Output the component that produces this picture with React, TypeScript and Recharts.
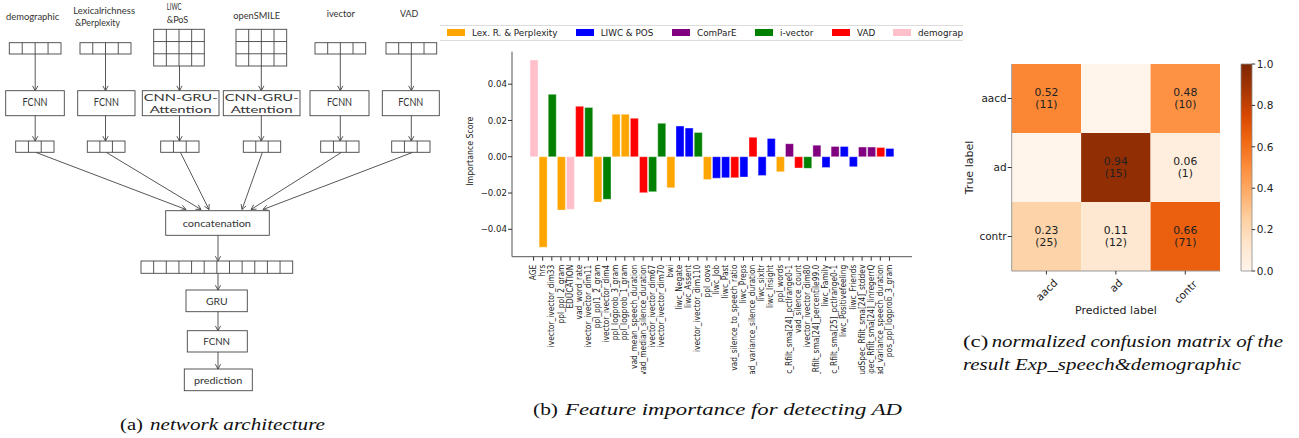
import React from 'react';
import { BarChart, Bar, XAxis, YAxis, Cell, LabelList, Label } from 'recharts';

// ---------- Panel (b) data ----------
const featureNames = [
  'AGE', 'hrs', 'ivector_ivector_dim33', 'ppl_ppl_2_gram', 'EDUCATION', 'vad_word_rate',
  'ivector_ivector_dim11', 'ppl_ppl1_2_gram', 'ivector_ivector_dim4', 'ppl_logprob_3_gram',
  'ppl_logprob_1_gram', 'vad_mean_speech_duration', 'vad_median_silence_duration',
  'ivector_ivector_dim67', 'ivector_ivector_dim70', 'bwi', 'liwc_Negate', 'liwc_Assent',
  'ivector_ivector_dim110', 'ppl_oovs', 'liwc_Job', 'liwc_Past', 'vad_silence_to_speech_ratio',
  'liwc_Preps', 'vad_variance_silence_duration', 'liwc_sixltr', 'liwc_Insight', 'ppl_words',
  'compare_audSpec_Rfilt_sma[24]_pctlrange0-1', 'vad_silence_count', 'ivector_ivector_dim80',
  'compare_audSpec_Rfilt_sma[24]_percentile99.0', 'liwc_Family',
  'compare_audSpec_Rfilt_sma[25]_pctlrange0-1', 'liwc_Positivefeeling', 'liwc_Friends',
  'compare_audSpec_Rfilt_sma[24]_stddev', 'compare_audSpec_Rfilt_sma[24]_linregerrQ',
  'vad_variance_speech_duration', 'pos_ppl_logprob_3_gram',
];
const featureGroups = [
  'demo', 'lex', 'ivector', 'lex', 'demo', 'vad',
  'ivector', 'lex', 'ivector', 'lex',
  'lex', 'vad', 'vad',
  'ivector', 'ivector', 'lex', 'liwc', 'liwc',
  'ivector', 'lex', 'liwc', 'liwc', 'vad',
  'liwc', 'vad', 'liwc', 'liwc', 'lex',
  'compare', 'vad', 'ivector',
  'compare', 'liwc',
  'compare', 'liwc', 'liwc',
  'compare', 'compare',
  'vad', 'liwc',
];
const importanceScores = [
  0.0533, -0.0499, 0.0344, -0.0294, -0.0290, 0.0278,
  0.0272, -0.0250, -0.0235, 0.0234,
  0.0234, 0.0212, -0.0198,
  -0.0193, 0.0184, -0.0171, 0.0169, 0.0158,
  0.0134, -0.0125, -0.0118, -0.0116, -0.0116,
  -0.0112, 0.0107, -0.0103, 0.0101, -0.0083,
  0.0072, -0.0062, -0.0064,
  0.0064, -0.0059,
  0.0057, 0.0057, -0.0055,
  0.0053, 0.0053,
  0.0051, 0.0046,
];
const groupKeys = ['lex', 'liwc', 'compare', 'ivector', 'vad', 'demo'];
const groupLabels = ['Lex. R. & Perplexity', 'LIWC & POS', 'ComParE', 'i-vector', 'VAD', 'demographic'];
const groupColors = ['#FFA500', '#0000FF', '#800080', '#008000', '#FF0000', '#FFC0CB'];
const importanceTicks = [-0.04, -0.02, 0, 0.02, 0.04];

// ---------- Panel (c) data ----------
const trueLabels = ['aacd', 'ad', 'contr'];
const predLabels = ['aacd', 'ad', 'contr'];
const normMatrix = [
  [0.52, 0.0, 0.48],
  [0.0, 0.94, 0.06],
  [0.23, 0.11, 0.66],
];
const countMatrix = [
  [11, 0, 10],
  [0, 15, 1],
  [25, 12, 71],
];
const colorbarTicks = [0, 0.2, 0.4, 0.6, 0.8, 1.0];
const orangesStops = ['#fff5eb', '#fee6ce', '#fdd0a2', '#fdae6b', '#fd8d3c', '#f16913', '#d94801', '#a63603', '#7f2704'];

function hexToRgb(h: string) {
  return [parseInt(h.slice(1, 3), 16), parseInt(h.slice(3, 5), 16), parseInt(h.slice(5, 7), 16)];
}
function oranges(v: number) {
  const n = orangesStops.length - 1;
  const p = Math.max(0, Math.min(1, v)) * n;
  const i = Math.min(n - 1, Math.floor(p));
  const t = p - i;
  const a = hexToRgb(orangesStops[i]);
  const b = hexToRgb(orangesStops[i + 1]);
  const c = a.map((x, k) => Math.round(x + (b[k] - x) * t));
  return `rgb(${c[0]},${c[1]},${c[2]})`;
}

const barData = featureNames.map((name, i) => ({ name, value: importanceScores[i], group: featureGroups[i] }));
const colorOf = (g: string) => groupColors[groupKeys.indexOf(g)];

const fmtMinus = (v: number) => (v < 0 ? '\u2212' : '') + Math.abs(v).toFixed(2);

const FeatTick = (props: any) => {
  const { x, y, payload } = props;
  return (
    <text
      transform={`translate(${x},${y}) rotate(-90) scale(0.87,1)`}
      textAnchor="end"
      dominantBaseline="central"
      fontSize={8.6}
      fontFamily="DejaVu Sans"
      fill="#222"
    >
      {payload.value}
    </text>
  );
};

const PredTick = (props: any) => {
  const { x, payload } = props;
  const label = predLabels[Math.floor(payload.value)];
  const w = label.length * 0.58 * 10.5;
  const h = (w + 10.5) * 0.707;
  return (
    <text
      transform={`translate(${x},${277.3 + h / 2}) rotate(-45)`}
      textAnchor="middle"
      dominantBaseline="central"
      fontSize={10.5}
      fontFamily="DejaVu Sans"
      fill="#222"
    >
      {label}
    </text>
  );
};

// ---------- Panel (a) helpers ----------
const S = '#444';
function Grid({ x, y, w, h, cols, rows }: any) {
  const lines: any[] = [];
  for (let c = 1; c < cols; c++) {
    const xx = x + (w * c) / cols;
    lines.push(<line key={'c' + c} x1={xx} y1={y} x2={xx} y2={y + h} stroke={S} strokeWidth={0.9} />);
  }
  for (let r = 1; r < rows; r++) {
    const yy = y + (h * r) / rows;
    lines.push(<line key={'r' + r} x1={x} y1={yy} x2={x + w} y2={yy} stroke={S} strokeWidth={0.9} />);
  }
  return (
    <g>
      <rect x={x} y={y} width={w} height={h} fill="#fff" stroke={S} strokeWidth={0.9} />
      {lines}
    </g>
  );
}
function Arrow({ x1, y1, x2, y2 }: any) {
  const a = Math.atan2(y2 - y1, x2 - x1);
  const L = 5.5;
  const w = 0.5;
  const p1 = [x2 - L * Math.cos(a - w), y2 - L * Math.sin(a - w)];
  const p2 = [x2 - L * Math.cos(a + w), y2 - L * Math.sin(a + w)];
  return (
    <g stroke={S} strokeWidth={0.9} fill="none">
      <line x1={x1} y1={y1} x2={x2} y2={y2} />
      <polyline points={`${p1[0]},${p1[1]} ${x2},${y2} ${p2[0]},${p2[1]}`} />
    </g>
  );
}
function T({ x1, x2, cy, s, size }: any) {
  return (
    <text
      x={x1}
      y={cy}
      textLength={x2 - x1}
      lengthAdjust="spacingAndGlyphs"
      dominantBaseline="central"
      fontSize={size}
      fontFamily="Lato"
      fill="#333"
    >
      {s}
    </text>
  );
}

const inputs = [
  { x: 9.3, y: 42.7, w: 51.7, h: 11.3, cols: 4, rows: 1, cx: 35.2 },
  { x: 80, y: 42.7, w: 51, h: 11.3, cols: 4, rows: 1, cx: 105.5 },
  { x: 153.7, y: 29.3, w: 50.6, h: 36.7, cols: 4, rows: 3, cx: 179.5 },
  { x: 236, y: 29.3, w: 50.7, h: 36.7, cols: 4, rows: 3, cx: 261.3 },
  { x: 315, y: 42.7, w: 50.7, h: 11.3, cols: 4, rows: 1, cx: 340.3 },
  { x: 386, y: 42.7, w: 50.7, h: 11.3, cols: 4, rows: 1, cx: 411.3 },
];
const modules = [
  { x1: 5.7, x2: 64.3 },
  { x1: 77.7, x2: 135 },
  { x1: 142.3, x2: 219 },
  { x1: 223.3, x2: 300 },
  { x1: 310, x2: 369 },
  { x1: 382.3, x2: 439.3 },
];
const outputs = [
  { x1: 15.7, x2: 54 },
  { x1: 87.3, x2: 125 },
  { x1: 160.7, x2: 199 },
  { x1: 243.3, x2: 280.7 },
  { x1: 320.7, x2: 359 },
  { x1: 391.7, x2: 430 },
];
const convergeTips = [186, 201, 209, 242, 251, 263];

function Diagram() {
  return (
    <svg width={445} height={438} style={{ position: 'absolute', left: 0, top: 0 }}>
      <T x1={6} x2={59.3} cy={16.7} s="demographic" size={9.5} />
      <T x1={73.3} x2={135} cy={10.7} s="Lexicalrichness" size={9.5} />
      <T x1={75} x2={120} cy={22.7} s="&Perplexity" size={9.5} />
      <T x1={166.7} x2={181.5} cy={6} s="LIWC" size={9} />
      <T x1={166.7} x2={188.3} cy={19.3} s="&PoS" size={9} />
      <T x1={233.3} x2={280} cy={15} s="openSMILE" size={9.5} />
      <T x1={326.7} x2={355} cy={13.3} s="ivector" size={9.5} />
      <T x1={400} x2={418.3} cy={13.3} s="VAD" size={9.5} />
      {inputs.map((b, i) => (
        <g key={'in' + i}>
          <Grid {...b} />
          <Arrow x1={b.cx} y1={b.y + b.h} x2={b.cx} y2={90.7} />
        </g>
      ))}
      {modules.map((m, i) => {
        const cx = (m.x1 + m.x2) / 2;
        const isCnn = i === 2 || i === 3;
        return (
          <g key={'m' + i}>
            <rect x={m.x1} y={90.7} width={m.x2 - m.x1} height={25} fill="#fff" stroke={S} strokeWidth={0.9} />
            {isCnn ? (
              <>
                <T x1={cx - 37} x2={cx + 37} cy={97} s="CNN-GRU-" size={10} />
                <T x1={cx - 31} x2={cx + 31} cy={108.7} s="Attention" size={10} />
              </>
            ) : (
              <T x1={cx - 12.5} x2={cx + 12.5} cy={102} s="FCNN" size={10.5} />
            )}
            <Arrow x1={inputs[i].cx} y1={115.7} x2={inputs[i].cx} y2={141} />
          </g>
        );
      })}
      {outputs.map((o, i) => (
        <g key={'o' + i}>
          <Grid x={o.x1} y={141} w={o.x2 - o.x1} h={11.3} cols={3} rows={1} />
          <Arrow x1={inputs[i].cx + 1} y1={152.5} x2={convergeTips[i]} y2={209.5} />
        </g>
      ))}
      <rect x={165.7} y={210.7} width={103.6} height={24.6} fill="#fff" stroke={S} strokeWidth={0.9} />
      <T x1={182.7} x2={251} cy={223.3} s="concatenation" size={10} />
      <Arrow x1={218} y1={235.3} x2={218} y2={261} />
      <Grid x={141} y={261} w={151.7} h={12.3} cols={12} rows={1} />
      <Arrow x1={218} y1={273.3} x2={218} y2={290} />
      <rect x={186} y={290} width={61.3} height={21.7} fill="#fff" stroke={S} strokeWidth={0.9} />
      <T x1={206} x2={227.7} cy={300.5} s="GRU" size={10} />
      <Arrow x1={218} y1={311.7} x2={218} y2={330.7} />
      <rect x={187.3} y={330.7} width={60} height={21.3} fill="#fff" stroke={S} strokeWidth={0.9} />
      <T x1={203.3} x2={230} cy={340.5} s="FCNN" size={10} />
      <Arrow x1={218} y1={352} x2={218} y2={369} />
      <rect x={184.3} y={369} width={68} height={21.7} fill="#fff" stroke={S} strokeWidth={0.9} />
      <T x1={194} x2={242.3} cy={379.5} s="prediction" size={10} />
      <text y={424} dominantBaseline="central" fontSize={17.5} fontFamily="'Liberation Serif', serif" fill="#111">
        <tspan x={120} textLength={23} lengthAdjust="spacingAndGlyphs">(a)</tspan>
        <tspan x={150} textLength={175} lengthAdjust="spacingAndGlyphs" fontStyle="italic">network architecture</tspan>
      </text>
    </svg>
  );
}

function Captions() {
  return (
    <svg width={1299} height={438} style={{ position: 'absolute', left: 0, top: 0, pointerEvents: 'none' }}>
      <text y={409} dominantBaseline="central" fontSize={17.5} fontFamily="'Liberation Serif', serif" fill="#111">
        <tspan x={533} textLength={25} lengthAdjust="spacingAndGlyphs">(b)</tspan>
        <tspan x={565} textLength={337} lengthAdjust="spacingAndGlyphs" fontStyle="italic">Feature importance for detecting AD</tspan>
      </text>
      <text y={340.7} dominantBaseline="central" fontSize={17.5} fontFamily="'Liberation Serif', serif" fill="#111">
        <tspan x={963} textLength={25.3} lengthAdjust="spacingAndGlyphs">(c)</tspan>
        <tspan x={991.7} textLength={291.3} lengthAdjust="spacingAndGlyphs" fontStyle="italic">normalized confusion matrix of the</tspan>
      </text>
      <text y={364} dominantBaseline="central" fontSize={17.5} fontFamily="'Liberation Serif', serif" fill="#111" fontStyle="italic">
        <tspan x={963} textLength={278} lengthAdjust="spacingAndGlyphs">result Exp_speech&amp;demographic</tspan>
      </text>
    </svg>
  );
}

const legendSwatchX = [447, 575.7, 672, 755, 832, 893];

function LegendBox() {
  return (
    <div
      style={{
        position: 'absolute', left: 440, top: 25, width: 523, height: 15.7,
        borderTop: '1px solid #dcdcdc', borderBottom: '1px solid #dcdcdc',
        overflow: 'hidden', whiteSpace: 'nowrap', boxSizing: 'border-box',
        fontFamily: 'DejaVu Sans', fontSize: 8.8, color: '#222',
      }}
    >
      {groupLabels.map((lab, i) => (
        <div key={lab} style={{ position: 'absolute', left: legendSwatchX[i] - 440, top: 0, height: 13.7, display: 'flex', alignItems: 'center' }}>
          <div style={{ width: 18, height: 7, background: groupColors[i], marginRight: 7 }} />
          <span>{lab}</span>
        </div>
      ))}
    </div>
  );
}

function ImportanceChart() {
  return (
    <div style={{ position: 'absolute', left: 440, top: 0, width: 505, height: 374, overflow: 'hidden' }}>
      <BarChart width={505} height={374} data={barData} margin={{ top: 51.7, right: 33, bottom: 0, left: 32 }} barSize={8}>
        <XAxis
          dataKey="name"
          interval={0}
          tick={<FeatTick />}
          tickSize={4}
          tickMargin={4}
          height={117.3}
          padding={{ left: 17, right: 18 }}
          axisLine={{ stroke: '#555' }}
          tickLine={{ stroke: '#333' }}
        />
        <XAxis xAxisId="top" orientation="top" height={0} tick={false} tickLine={false} axisLine={{ stroke: '#555' }} />
        <YAxis
          type="number"
          domain={[-0.0551, 0.0579]}
          allowDataOverflow
          ticks={importanceTicks}
          tickFormatter={fmtMinus}
          width={40}
          tickSize={4}
          tickMargin={1}
          axisLine={{ stroke: '#555' }}
          tickLine={{ stroke: '#333' }}
          tick={{ fontSize: 8.6, fontFamily: 'DejaVu Sans', fill: '#222' }}
        >
          <Label
            content={(p: any) => {
              const vb = p.viewBox;
              const cx = 470 - 440;
              const cy = vb.y + vb.height / 2 - 3;
              return (
                <text
                  transform={`translate(${cx},${cy}) rotate(-90) scale(0.87,1)`}
                  textAnchor="middle"
                  dominantBaseline="central"
                  fontSize={9}
                  fontFamily="DejaVu Sans"
                  fill="#222"
                >
                  Importance Score
                </text>
              );
            }}
          />
        </YAxis>
        <YAxis yAxisId="r" orientation="right" width={0} type="number" domain={[0, 1]} tick={false} tickLine={false} axisLine={{ stroke: '#555' }} />
        <Bar dataKey="value" isAnimationActive={false} stroke="#ffffff" strokeOpacity={0.45} strokeWidth={0.8}>
          {barData.map((d, i) => (
            <Cell key={i} fill={colorOf(d.group)} />
          ))}
        </Bar>
      </BarChart>
    </div>
  );
}

const cmData = trueLabels.map((t, i) => ({ label: t, row: i, c0: 1, c1: 1, c2: 1 }));

function ConfusionChart() {
  return (
    <div style={{ position: 'absolute', left: 950, top: 0, width: 290, height: 330 }}>
      <BarChart
        layout="vertical"
        width={290}
        height={330}
        data={cmData}
        margin={{ top: 64, right: 20, bottom: 0, left: 11.7 }}
        barCategoryGap={0}
      >
        <XAxis
          type="number"
          domain={[0, 3]}
          allowDataOverflow
          ticks={[0.5, 1.5, 2.5]}
          tick={<PredTick />}
          height={59}
          tickSize={3.5}
          tickMargin={0}
          axisLine={{ stroke: '#999' }}
          tickLine={{ stroke: '#333' }}
        >
          <Label
            content={(p: any) => {
              const vb = p.viewBox;
              return (
                <text x={vb.x + vb.width / 2} y={310.7} textAnchor="middle" dominantBaseline="central" fontSize={11} fontFamily="DejaVu Sans" fill="#222">
                  Predicted label
                </text>
              );
            }}
          />
        </XAxis>
        <XAxis xAxisId="top" orientation="top" type="number" domain={[0, 3]} height={0} tick={false} tickLine={false} axisLine={{ stroke: '#999' }} />
        <YAxis
          type="category"
          dataKey="label"
          width={50}
          tickSize={4}
          tickMargin={1}
          axisLine={{ stroke: '#999' }}
          tickLine={{ stroke: '#333' }}
          tick={{ fontSize: 10.5, fontFamily: 'DejaVu Sans', fill: '#222' }}
        >
          <Label
            content={(p: any) => {
              const vb = p.viewBox;
              const cx = 969.3 - 950;
              const cy = vb.y + vb.height / 2;
              return (
                <text transform={`translate(${cx},${cy}) rotate(-90)`} textAnchor="middle" dominantBaseline="central" fontSize={11} fontFamily="DejaVu Sans" fill="#222">
                  True label
                </text>
              );
            }}
          />
        </YAxis>
        <YAxis yAxisId="r" orientation="right" type="category" dataKey="label" width={0} tick={false} tickLine={false} axisLine={{ stroke: '#999' }} />
        {predLabels.map((p, j) => (
          <Bar key={p} dataKey={`c${j}`} stackId="m" isAnimationActive={false}>
            {cmData.map((d, i) => (
              <Cell key={i} fill={oranges(normMatrix[i][j])} />
            ))}
            <LabelList
              dataKey={`c${j}`}
              content={(lp: any) => {
                const i = lp.index;
                if (countMatrix[i][j] === 0) return null;
                const cx = lp.x + lp.width / 2;
                const cy = lp.y + lp.height / 2;
                return (
                  <g fontSize={10.8} fontFamily="DejaVu Sans" fill="#222" textAnchor="middle">
                    <text x={cx} y={cy - 6.5} dominantBaseline="central">{normMatrix[i][j].toFixed(2)}</text>
                    <text x={cx} y={cy + 6} dominantBaseline="central">({countMatrix[i][j]})</text>
                  </g>
                );
              }}
            />
          </Bar>
        ))}
      </BarChart>
    </div>
  );
}

function Colorbar() {
  return (
    <div style={{ position: 'absolute', left: 1230, top: 0, width: 69, height: 290 }}>
      <BarChart width={69} height={290} data={[{ name: 'cb', v: 1 }]} margin={{ top: 64, right: 0, bottom: 19, left: 11 }} barCategoryGap={0}>
        <defs>
          <linearGradient id="cbGrad" x1="0" y1="1" x2="0" y2="0">
            {orangesStops.map((c, i) => (
              <stop key={i} offset={i / (orangesStops.length - 1)} stopColor={c} />
            ))}
          </linearGradient>
        </defs>
        <XAxis dataKey="name" hide />
        <YAxis
          orientation="right"
          type="number"
          domain={[0, 1]}
          ticks={colorbarTicks}
          tickFormatter={(v: number) => v.toFixed(1)}
          width={47.3}
          tickSize={3.5}
          tickMargin={1.5}
          axisLine={false}
          tickLine={{ stroke: '#333' }}
          tick={{ fontSize: 10.5, fontFamily: 'DejaVu Sans', fill: '#222' }}
        />
        <Bar dataKey="v" fill="url(#cbGrad)" stroke="#8a8a8a" strokeWidth={0.8} isAnimationActive={false} />
      </BarChart>
    </div>
  );
}

export default function App() {
  return (
    <div style={{ position: 'absolute', left: 0, top: 0, width: 1299, height: 438, background: '#fff', overflow: 'hidden' }}>
      <Diagram />
      <ImportanceChart />
      <LegendBox />
      <ConfusionChart />
      <Colorbar />
      <Captions />
    </div>
  );
}
